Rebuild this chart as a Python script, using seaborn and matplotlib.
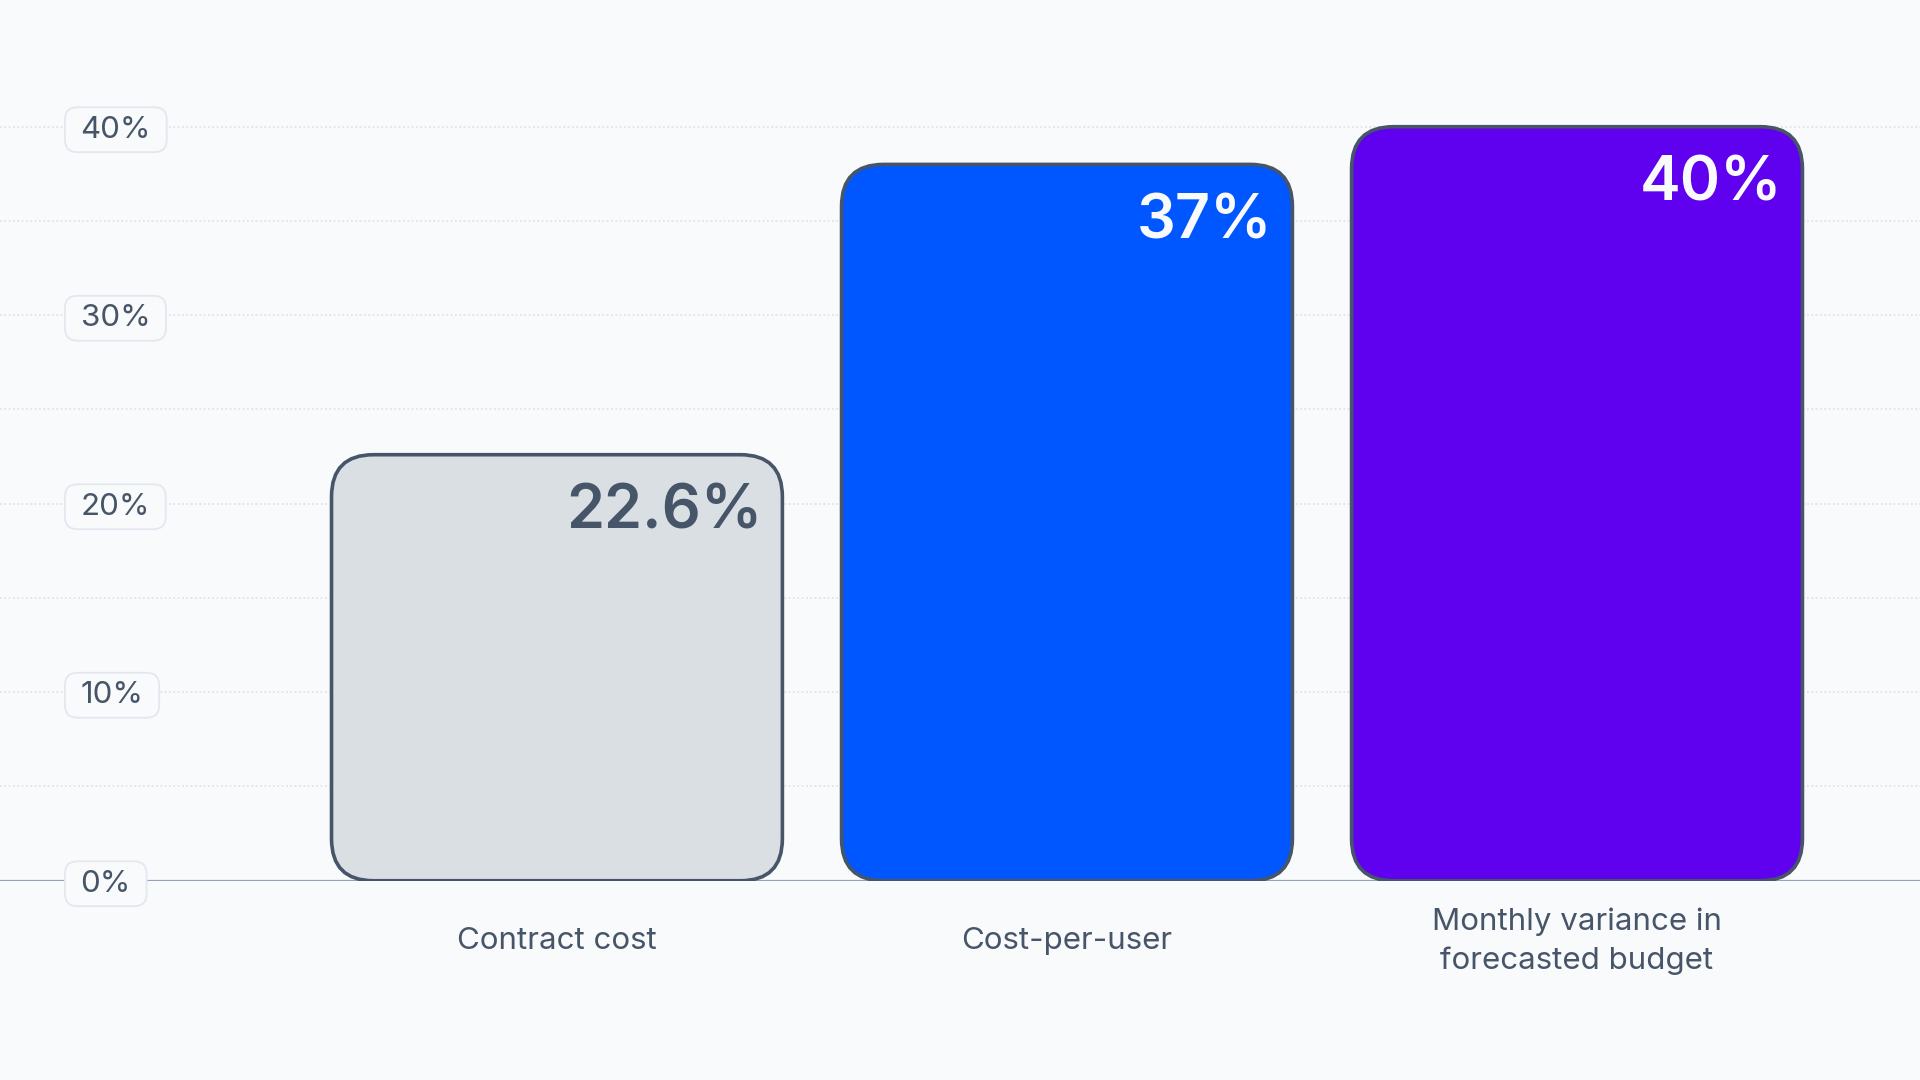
import numpy as np
import pandas as pd
import matplotlib
matplotlib.use("Agg")
import matplotlib.pyplot as plt
import seaborn as sns
from matplotlib.patches import FancyBboxPatch, BoxStyle

# --- data ---
categories = ["Contract cost", "Cost-per-user", "Monthly variance in\nforecasted budget"]
values = [22.6, 38.0, 40.0]
value_labels = ["22.6%", "37%", "40%"]
y_ticks = [0, 10, 20, 30, 40]
y_tick_labels = ["0%", "10%", "20%", "30%", "40%"]
grid_levels = [5, 10, 15, 20, 25, 30, 35, 40]

# --- style ---
BG = "#f8fafc"
TEXT = "#475569"
EDGE = "#475569"
bar_colors = ["#dadfe4", "#0057ff", "#5f00ef"]
label_colors = ["#475569", "#f8fafc", "#f8fafc"]

sns.set_theme(style="white")
plt.rcParams["font.family"] = ["Inter", "DejaVu Sans"]

fig = plt.figure(figsize=(19.2, 10.8), dpi=100, facecolor=BG)
ax = fig.add_axes([0, 0.1845, 1, 0.768])
ax.set_facecolor(BG)

df = pd.DataFrame({"category": categories, "value": values})
sns.barplot(data=df, x="category", y="value", hue="category", palette=bar_colors,
            saturation=1, width=0.884, legend=False, ax=ax)

ax.set_xlim(-1.092, 2.6725)
ax.set_ylim(0, 44)
for s in ax.spines.values():
    s.set_visible(False)
ax.set_xlabel("")
ax.set_ylabel("")

# px per data unit, to keep the corners circular
p0 = ax.transData.transform((0, 0))
px_x = ax.transData.transform((1, 0))[0] - p0[0]
px_y = ax.transData.transform((0, 1))[1] - p0[1]
radius_px = 42

# swap the plain bars for rounded ones
bars = list(ax.patches)
for i, bar in enumerate(bars):
    x, y = bar.get_x(), bar.get_y()
    w, h = bar.get_width(), bar.get_height()
    bar.remove()
    rounded = FancyBboxPatch(
        (x, y), w, h,
        boxstyle=f"round,pad=0,rounding_size={radius_px / px_x}",
        mutation_aspect=px_x / px_y,
        facecolor=bar_colors[i], edgecolor=EDGE, linewidth=2.6, zorder=2)
    ax.add_patch(rounded)
    ax.annotate(value_labels[i], xy=(x + w, y + h), xytext=(-20, -29),
                textcoords="offset pixels", ha="right", va="top",
                fontsize=44, fontweight="semibold", color=label_colors[i], zorder=3)

# grid + baseline
for g in grid_levels:
    ax.axhline(g, color="#dfe4ea", lw=1.3, ls=(0, (1, 1.4)), zorder=0.2)
ax.axhline(0, color="#94a3b8", lw=1.6, zorder=0.3)


def pill(x0, y0, width, height, mutation_size):
    px = 0.5 * mutation_size
    py = 0.27 * mutation_size
    return BoxStyle.Round(pad=0, rounding_size=0.4)(
        x0 - px, y0 - py, width + 2 * px, height + 2 * py, mutation_size)


# y tick labels inside the plot, in rounded boxes
ax.set_axisbelow(True)
ax.set_yticks(y_ticks)
ax.set_yticklabels(y_tick_labels)
ax.tick_params(axis="y", left=False, length=0, pad=-58.0, labelsize=22.5, labelcolor=TEXT)
for lab in ax.get_yticklabels():
    lab.set_ha("left")
    lab.set_va("center_baseline")
    lab.set_bbox(dict(boxstyle=pill, facecolor="#f9fafb", edgecolor="#e2e8f0", linewidth=1.3))

# category labels
ax.tick_params(axis="x", bottom=False, length=0, pad=43.5, labelsize=22.5, labelcolor=TEXT)
for lab in ax.get_xticklabels():
    lab.set_va("center")
    lab.set_ha("center")
    lab.set_multialignment("center")
    lab.set_linespacing(1.45)

fig.savefig("out.png", dpi=100, facecolor=BG)
